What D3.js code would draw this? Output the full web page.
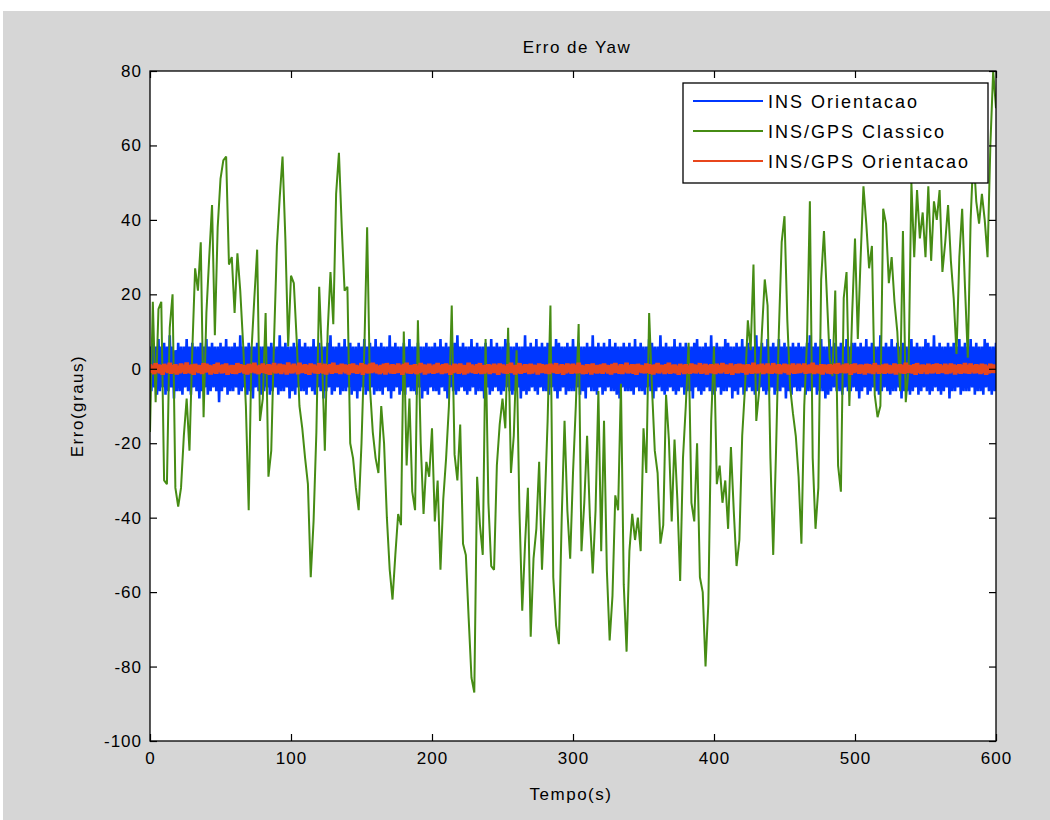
<!DOCTYPE html>
<html>
<head>
<meta charset="utf-8">
<script src="https://cdn.jsdelivr.net/npm/d3@7"></script>
<style>
  body { margin: 0; background: #fff; }
  svg text { font-family: "Liberation Sans", Arial, sans-serif; fill: #000; }
</style>
</head>
<body>
<svg id="chart" width="1050" height="820"></svg>
<script>
const xTicks = [0, 100, 200, 300, 400, 500, 600];
const yTicks = [-100, -80, -60, -40, -20, 0, 20, 40, 60, 80];

const seriesNames = ['INS Orientacao', 'INS/GPS Classico', 'INS/GPS Orientacao'];
// seconds between samples of each series
const seriesSteps = [1, 2, 1];

// INS Orientacao (blue band), one value per second
const insOrient = [
  6,-6,7,-5,6,-7,8,-6,6,-5,7,-7,6,-6,9,-5,6,-8,5,-6,
  7,-6,6,-7,6,-5,8,-6,6,-7,7,-5,6,-6,6,-8,7,-6,6,-5,
  8,-7,6,-6,7,-5,6,-6,6,-9,7,-6,6,-5,8,-7,6,-6,6,-6,
  7,-5,6,-7,9,-6,6,-5,6,-7,7,-6,6,-8,6,-5,7,-6,6,-7,
  6,-6,8,-5,6,-7,7,-6,6,-5,6,-7,9,-6,6,-6,7,-5,6,-8,
  6,-6,7,-7,6,-5,8,-6,6,-6,7,-7,6,-5,6,-6,8,-7,6,-5,
  7,-6,6,-8,6,-6,7,-5,9,-7,6,-6,6,-5,7,-7,6,-6,8,-6,
  6,-5,7,-7,6,-6,6,-8,7,-6,6,-5,8,-7,6,-6,7,-5,6,-7,
  8,-6,6,-6,7,-7,6,-5,6,-6,9,-8,6,-6,7,-5,6,-7,6,-6,
  7,-7,6,-5,8,-6,6,-6,6,-7,7,-5,6,-8,6,-6,7,-7,6,-5,
  6,-6,7,-6,6,-7,8,-5,6,-6,7,-8,6,-5,6,-6,7,-7,9,-6,
  6,-5,7,-6,6,-7,6,-6,8,-5,6,-7,7,-6,6,-6,6,-8,7,-5,
  6,-7,8,-6,6,-5,7,-6,6,-7,6,-6,8,-5,7,-6,6,-7,6,-6,
  7,-5,6,-8,6,-6,9,-7,6,-6,7,-5,6,-6,8,-7,6,-5,7,-6,
  6,-6,7,-7,6,-5,6,-6,8,-8,7,-6,6,-5,6,-7,7,-6,6,-6,
  8,-6,6,-5,7,-7,6,-6,6,-8,7,-5,6,-6,9,-6,6,-7,7,-5,
  6,-7,7,-6,6,-5,8,-6,6,-6,7,-7,6,-8,6,-5,7,-6,6,-6,
  7,-6,6,-7,8,-5,6,-6,7,-6,6,-7,6,-5,8,-6,7,-8,6,-6,
  6,-5,9,-6,6,-7,7,-6,6,-5,6,-6,8,-7,6,-6,7,-5,6,-7,
  7,-6,6,-6,6,-8,7,-5,8,-6,6,-7,6,-6,7,-5,6,-6,9,-7,
  6,-6,7,-5,6,-7,6,-6,8,-6,7,-5,6,-8,6,-6,7,-7,6,-5,
  8,-7,6,-6,7,-5,6,-6,6,-7,9,-6,6,-5,7,-6,6,-7,8,-6,
  6,-5,7,-7,6,-6,8,-6,6,-5,7,-8,6,-6,6,-7,7,-5,6,-6,
  7,-6,6,-5,6,-7,7,-6,9,-6,6,-5,7,-7,6,-6,8,-6,6,-8,
  6,-7,8,-6,6,-5,7,-6,6,-6,7,-7,6,-5,8,-6,6,-6,7,-5,
  7,-6,6,-8,7,-6,6,-5,8,-7,6,-6,7,-5,6,-6,6,-7,9,-6,
  6,-5,7,-6,6,-7,8,-6,6,-6,7,-5,6,-8,7,-6,6,-6,6,-7,
  8,-6,6,-5,7,-7,6,-6,6,-5,8,-6,7,-7,6,-6,9,-5,6,-6,
  7,-7,6,-6,6,-5,7,-8,6,-6,7,-6,6,-5,8,-7,6,-6,7,-6,
  6,-6,8,-5,6,-7,7,-6,6,-6,6,-7,8,-5,7,-6,6,-7,6,-6,
  7
];

// INS/GPS Classico (green), one value every 2 s
const insGpsClassico = [
  -17, 18, -9, 16, 18, -30, -31, 11, 20, -32,
  -37, -32, -18, -8, -22, 5, 27, 21, 34, -13,
  15, 30, 44, 9, 38, 51, 56, 57, 28, 30,
  15, 31, 21, 7, -10, -38, 5, 19, 32, -14,
  -8, 15, -29, -22, 8, 33, 46, 57, 35, 6,
  25, 23, 8, -10, -16, -24, -31, -56, -41, -17,
  22, 3, -22, 10, 26, 12, 47, 58, 38, 21,
  22, -20, -24, -32, -38, -20, 5, 38, -5, -17,
  -24, -28, -10, -20, -40, -54, -62, -50, -39, -42,
  10, -26, -8, -33, -38, 13, -20, -39, -25, -29,
  -16, -41, -30, -54, -35, -24, -10, 17, -23, -30,
  -15, -47, -50, -67, -83, -87, -29, -42, -50, 8,
  -36, -53, -54, -26, -15, -8, -16, 11, -28, -18,
  5, -38, -65, -47, -32, -72, -51, -43, -25, -54,
  -36, -14, 17, -56, -69, -74, -40, -14, -38, -51,
  -28, -10, 12, -49, -36, -18, -40, -55, -38, -6,
  -49, -14, -54, -73, -61, -34, -38, -4, -58, -76,
  -49, -39, -46, -40, -49, -16, -28, 15, -5, -22,
  -28, -47, -42, -7, -19, -41, -19, -35, -57, -24,
  -10, 7, -36, -41, -20, -56, -60, -80, -63, -14,
  6, -31, -26, -36, -30, -43, -21, -38, -53, -46,
  -18, -5, 13, 5, 28, -14, -6, 10, 24, 17,
  -24, -50, -22, 10, 34, 41, 13, -5, -12, -18,
  -29, -47, -10, 8, 45, -24, -43, -32, 24, 37,
  20, 3, -2, 21, -26, -33, 19, 26, -10, 15,
  35, 8, 30, 49, 39, 27, 33, -7, -13, -10,
  43, 39, 23, 30, 18, 10, -6, 37, -9, 0,
  50, 30, 48, 35, 42, 30, 49, 29, 45, 40,
  48, 26, 34, 44, 29, 19, 4, 30, 43, 22,
  3, 40, 58, 45, 39, 47, 40, 30, 60, 80,
  70
];

// INS/GPS Orientacao (red), one value per second
const insGpsOrient = [
  1.2,-1.0,0.8,-1.4,1.5,-0.9,1.1,-1.2,0.9,-1.6,1.3,-0.8,1.0,-1.1,1.6,-1.3,0.9,-1.0,1.2,-1.5,
  0.8,-1.2,1.4,-0.9,1.0,-1.3,1.7,-1.0,0.9,-1.2,1.1,-1.6,1.3,-0.8,1.0,-1.1,0.9,-1.4,1.5,-1.0,
  1.3,-0.9,1.0,-1.5,0.8,-1.1,1.2,-1.3,1.6,-0.8,0.9,-1.2,1.1,-1.0,1.4,-1.6,0.8,-1.1,1.0,-1.3,
  0.9,-1.4,1.5,-1.0,1.2,-0.8,1.0,-1.2,0.9,-1.5,1.3,-1.1,1.1,-0.9,1.6,-1.2,0.8,-1.4,1.0,-1.0,
  1.4,-1.1,0.9,-1.3,1.2,-1.6,1.0,-0.8,1.5,-1.2,0.8,-1.0,1.3,-1.4,1.1,-0.9,0.9,-1.5,1.7,-1.1,
  1.0,-1.2,1.3,-0.8,0.8,-1.4,1.6,-1.1,1.0,-1.0,1.2,-1.3,0.9,-1.6,1.4,-0.9,1.1,-1.2,0.8,-1.3,
  1.5,-1.0,1.0,-1.2,1.3,-1.5,0.9,-0.9,1.2,-1.3,1.6,-1.0,0.9,-1.1,1.0,-1.4,1.3,-0.8,1.1,-1.2,
  0.9,-1.5,1.2,-1.0,1.4,-1.1,1.0,-1.3,0.8,-0.9,1.5,-1.6,1.1,-1.0,0.9,-1.2,1.3,-1.1,1.6,-0.8,
  1.1,-1.2,0.8,-1.4,1.0,-1.0,1.3,-1.5,1.5,-0.9,1.0,-1.2,1.2,-1.3,0.9,-1.1,1.4,-1.0,0.9,-1.6,
  1.3,-0.9,1.6,-1.2,0.9,-1.3,1.0,-1.0,1.2,-1.4,0.8,-1.1,1.5,-0.8,1.1,-1.5,1.0,-1.2,1.3,-1.0,
  0.8,-1.3,1.1,-1.1,1.5,-0.9,0.9,-1.4,1.2,-1.2,1.4,-1.0,1.0,-1.6,0.8,-1.1,1.3,-0.9,1.1,-1.3,
  1.4,-1.0,1.0,-1.5,0.9,-1.2,1.6,-0.8,1.1,-1.1,0.8,-1.3,1.2,-1.0,1.5,-1.4,0.9,-1.2,1.0,-0.9,
  1.2,-1.4,0.9,-1.0,1.3,-1.1,1.0,-1.6,1.4,-0.9,1.1,-1.2,0.8,-1.3,1.2,-1.0,1.6,-1.1,0.9,-1.5,
  1.0,-1.1,1.5,-1.3,0.8,-1.0,1.2,-0.9,1.1,-1.4,1.3,-1.2,1.0,-0.8,0.9,-1.5,1.4,-1.1,1.2,-1.0,
  0.9,-1.2,1.1,-1.4,1.3,-0.9,1.0,-1.1,1.5,-1.3,0.8,-1.0,1.2,-1.6,1.0,-1.2,1.4,-0.9,1.1,-1.3,
  1.3,-1.1,0.9,-1.2,1.6,-1.0,1.0,-1.4,0.8,-1.3,1.2,-0.9,1.1,-1.5,1.4,-1.0,0.9,-1.2,1.0,-1.1,
  1.1,-1.3,1.4,-0.8,1.0,-1.2,0.9,-1.5,1.3,-1.1,1.5,-1.0,0.8,-1.3,1.2,-1.4,1.0,-0.9,1.6,-1.2,
  0.9,-1.0,1.2,-1.3,1.1,-1.6,1.3,-0.9,1.0,-1.1,0.8,-1.2,1.4,-1.0,1.2,-1.3,0.9,-1.5,1.1,-1.0,
  1.5,-1.2,1.0,-0.9,0.9,-1.4,1.2,-1.1,1.6,-1.3,1.0,-1.0,1.1,-1.2,0.8,-1.6,1.3,-0.9,1.0,-1.4,
  1.2,-1.1,0.8,-1.3,1.4,-1.0,1.1,-1.2,0.9,-0.9,1.5,-1.3,1.0,-1.1,1.3,-1.5,0.9,-1.0,1.2,-1.2,
  1.0,-1.4,1.3,-1.0,0.9,-1.2,1.5,-0.8,1.1,-1.3,1.0,-1.1,1.4,-1.6,0.8,-1.0,1.2,-1.2,1.3,-0.9,
  1.1,-1.0,1.0,-1.5,1.2,-1.1,0.9,-1.3,1.6,-1.0,1.0,-1.2,1.1,-0.9,1.3,-1.4,0.9,-1.1,1.4,-1.2,
  0.8,-1.3,1.5,-1.0,1.0,-1.2,1.2,-1.4,0.9,-0.9,1.3,-1.1,1.1,-1.5,1.0,-1.0,1.4,-1.3,0.9,-1.2,
  1.3,-1.1,1.0,-0.8,1.4,-1.3,0.9,-1.2,1.1,-1.0,1.6,-1.4,1.0,-1.1,0.8,-1.2,1.2,-1.5,1.1,-0.9,
  1.0,-1.2,1.2,-1.4,0.9,-1.0,1.3,-1.3,1.5,-1.1,0.8,-0.9,1.1,-1.2,1.4,-1.0,1.0,-1.6,1.2,-1.1,
  1.4,-0.9,0.9,-1.3,1.1,-1.1,1.0,-1.5,1.3,-1.0,1.2,-1.2,0.9,-1.4,1.5,-0.8,1.0,-1.3,0.8,-1.0,
  1.1,-1.3,1.3,-1.0,1.0,-1.2,0.8,-1.1,1.4,-1.5,1.1,-0.9,1.2,-1.2,0.9,-1.3,1.6,-1.0,1.0,-1.1,
  0.9,-1.2,1.2,-1.6,1.5,-1.0,1.0,-1.3,1.1,-0.8,0.9,-1.4,1.3,-1.1,1.0,-1.2,1.2,-0.9,1.4,-1.3,
  1.2,-1.0,0.8,-1.1,1.3,-1.4,1.0,-1.2,1.4,-0.9,1.1,-1.5,0.9,-1.0,1.2,-1.3,1.0,-1.1,1.5,-1.2,
  1.0,-1.3,1.4,-0.9,0.9,-1.2,1.2,-1.1,1.0,-1.4,1.3,-1.0,1.1,-1.6,0.8,-1.2,1.3,-1.0,1.1,-1.1,
  1.0
];

const seriesData = [insOrient, insGpsClassico, insGpsOrient];
const seriesColors = ['#0037ff', '#468c14', '#e8461c'];
const seriesWidths = [2.6, 2, 4.6];

const svg = d3.select('#chart');

// figure background
svg.append('rect')
  .attr('x', 3).attr('y', 11)
  .attr('width', 1047).attr('height', 809)
  .attr('fill', '#d6d6d6');

const margin = {top: 71, right: 54, bottom: 79, left: 150};
const width = 1050 - margin.left - margin.right;
const height = 820 - margin.top - margin.bottom;

const x = d3.scaleLinear().domain([0, 600]).range([margin.left, margin.left + width]);
const y = d3.scaleLinear().domain([-100, 80]).range([margin.top + height, margin.top]);

svg.append('rect')
  .attr('x', margin.left).attr('y', margin.top)
  .attr('width', width).attr('height', height)
  .attr('fill', '#fff');

svg.append('clipPath').attr('id', 'plotclip')
  .append('rect')
  .attr('x', margin.left).attr('y', margin.top)
  .attr('width', width).attr('height', height);

const plot = svg.append('g').attr('clip-path', 'url(#plotclip)');
seriesData.forEach((vals, k) => {
  const line = d3.line()
    .x((d, i) => x(i * seriesSteps[k]))
    .y(d => y(d));
  plot.append('path')
    .datum(vals)
    .attr('d', line)
    .attr('fill', 'none')
    .attr('stroke', seriesColors[k])
    .attr('stroke-width', seriesWidths[k])
    .attr('stroke-linejoin', 'bevel');
});

// axes, ticks pointing inwards on all four sides
const fmt = d => String(d);
svg.append('g')
  .attr('transform', 'translate(0,' + (margin.top + height) + ')')
  .call(d3.axisBottom(x).tickValues(xTicks).tickFormat(fmt).tickSize(-7).tickSizeOuter(0).tickPadding(11));
svg.append('g')
  .attr('transform', 'translate(0,' + margin.top + ')')
  .call(d3.axisTop(x).tickValues(xTicks).tickSize(-7).tickSizeOuter(0).tickFormat(''));
svg.append('g')
  .attr('transform', 'translate(' + margin.left + ',0)')
  .call(d3.axisLeft(y).tickValues(yTicks).tickFormat(fmt).tickSize(-7).tickSizeOuter(0).tickPadding(8));
svg.append('g')
  .attr('transform', 'translate(' + (margin.left + width) + ',0)')
  .call(d3.axisRight(y).tickValues(yTicks).tickSize(-7).tickSizeOuter(0).tickFormat(''));

svg.selectAll('.domain').remove();
svg.selectAll('.tick line').attr('stroke', '#000').attr('stroke-width', 1.2);
svg.selectAll('.tick text')
  .style('font-family', '"Liberation Sans", Arial, sans-serif')
  .style('font-size', '17px')
  .style('letter-spacing', '1px')
  .attr('fill', '#000');

svg.append('rect')
  .attr('x', margin.left).attr('y', margin.top)
  .attr('width', width).attr('height', height)
  .attr('fill', 'none')
  .attr('stroke', '#000')
  .attr('stroke-width', 1.3);

// title and axis labels
svg.append('text')
  .attr('x', margin.left + width / 2 + 4).attr('y', 53)
  .attr('text-anchor', 'middle')
  .style('font-size', '17px').style('letter-spacing', '1.5px')
  .text('Erro de Yaw');

svg.append('text')
  .attr('x', margin.left + width / 2 - 2).attr('y', 800)
  .attr('text-anchor', 'middle')
  .style('font-size', '17px').style('letter-spacing', '1.5px')
  .text('Tempo(s)');

svg.append('text')
  .attr('transform', 'translate(83,' + (margin.top + height / 2) + ') rotate(-90)')
  .attr('text-anchor', 'middle')
  .style('font-size', '17px').style('letter-spacing', '1.5px')
  .text('Erro(graus)');

// legend
const legend = svg.append('g').attr('transform', 'translate(683,83)');
legend.append('rect')
  .attr('width', 305).attr('height', 100)
  .attr('fill', '#fff')
  .attr('stroke', '#000')
  .attr('stroke-width', 1.3);
seriesNames.forEach((name, k) => {
  const ly = 18 + k * 30;
  legend.append('line')
    .attr('x1', 10).attr('x2', 80)
    .attr('y1', ly).attr('y2', ly)
    .attr('stroke', seriesColors[k])
    .attr('stroke-width', 2);
  legend.append('text')
    .attr('x', 85).attr('y', ly + 7)
    .style('font-size', '18px').style('letter-spacing', '2px')
    .text(name);
});
</script>
</body>
</html>
